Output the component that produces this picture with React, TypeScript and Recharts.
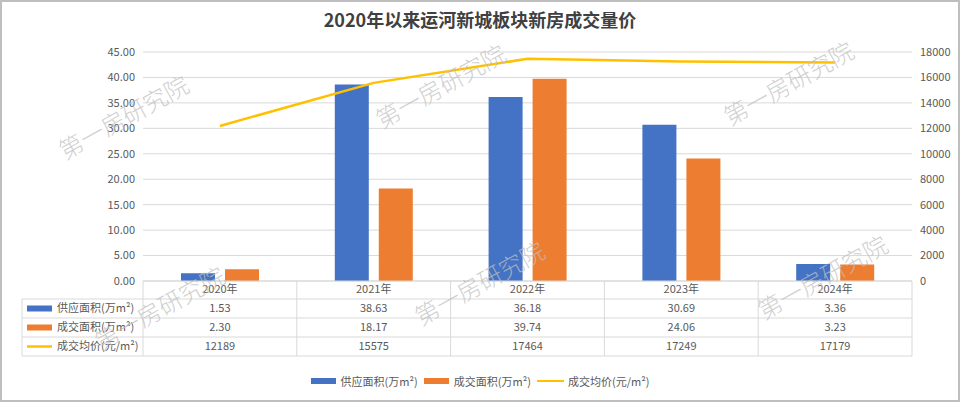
import React from 'react';
import {
  ComposedChart,
  Bar,
  Line,
  XAxis,
  YAxis,
  CartesianGrid,
  Legend,
} from 'recharts';

// chart data
const years = ['2020年', '2021年', '2022年', '2023年', '2024年'];
const supplyArea = [1.53, 38.63, 36.18, 30.69, 3.36];
const dealArea = [2.3, 18.17, 39.74, 24.06, 3.23];
const avgPrice = [12189, 15575, 17464, 17249, 17179];

const leftTicks = [0, 5, 10, 15, 20, 25, 30, 35, 40, 45];
const rightTicks = [0, 2000, 4000, 6000, 8000, 10000, 12000, 14000, 16000, 18000];

const seriesNames = ['供应面积(万m²)', '成交面积(万m²)', '成交均价(元/m²)'];
const seriesColors = ['#4472C4', '#ED7D31', '#FFC000'];

const data = years.map((year, i) => ({
  year,
  supply: supplyArea[i],
  deal: dealArea[i],
  price: avgPrice[i],
}));

// layout
const W = 960;
const H = 402;
const PLOT_LEFT = 143;
const PLOT_RIGHT = 912;
const PLOT_TOP = 52;
const PLOT_BOTTOM = 281;
const LEFT_AXIS_W = 60;
const RIGHT_AXIS_W = 48;
const X_AXIS_H = 18;
const ROW_H = 19;
const TABLE_LEFT = 22;

const FONT = '"Noto Sans CJK SC", "Noto Sans", sans-serif';
const TEXT = '#595959';
const LINE = '#D9D9D9';

const colW = (PLOT_RIGHT - PLOT_LEFT) / years.length;

const tableRows = [
  supplyArea.map((v) => v.toFixed(2)),
  dealArea.map((v) => v.toFixed(2)),
  avgPrice.map((v) => String(v)),
];

// watermark centres
const marks = [
  [124, 118],
  [441, 87],
  [789, 84],
  [160, 309],
  [480, 284],
  [823, 278],
];

function DataTable() {
  const headTop = PLOT_BOTTOM;
  const bodyTop = PLOT_BOTTOM + X_AXIS_H;
  const bodyBottom = bodyTop + ROW_H * 3;
  return (
    <svg width={W} height={H} style={{ position: 'absolute', left: 0, top: 0, pointerEvents: 'none' }}>
      {/* header verticals */}
      {years.map((_, i) => (
        <line key={`hv${i}`} x1={PLOT_LEFT + i * colW} x2={PLOT_LEFT + i * colW} y1={headTop} y2={bodyTop} stroke={LINE} />
      ))}
      <line x1={PLOT_RIGHT} x2={PLOT_RIGHT} y1={headTop} y2={bodyBottom} stroke={LINE} />
      {/* body */}
      {[0, 1, 2, 3].map((r) => (
        <line key={`h${r}`} x1={TABLE_LEFT} x2={PLOT_RIGHT} y1={bodyTop + r * ROW_H} y2={bodyTop + r * ROW_H} stroke={LINE} />
      ))}
      <line x1={TABLE_LEFT} x2={TABLE_LEFT} y1={bodyTop} y2={bodyBottom} stroke={LINE} />
      {years.map((_, i) => (
        <line key={`bv${i}`} x1={PLOT_LEFT + i * colW} x2={PLOT_LEFT + i * colW} y1={bodyTop} y2={bodyBottom} stroke={LINE} />
      ))}
      {tableRows.map((row, r) => {
        const cy = bodyTop + r * ROW_H + ROW_H / 2;
        return (
          <g key={`r${r}`}>
            {r < 2 ? (
              <rect x={27} y={cy - 3} width={25} height={6} fill={seriesColors[r]} />
            ) : (
              <line x1={27} x2={52} y1={cy} y2={cy} stroke={seriesColors[r]} strokeWidth={2.5} />
            )}
            <text x={57} y={cy} dy="0.35em" fontSize={11} fill={TEXT} fontFamily={FONT}>
              {seriesNames[r]}
            </text>
            {row.map((v, i) => (
              <text
                key={i}
                x={PLOT_LEFT + (i + 0.5) * colW}
                y={cy}
                dy="0.35em"
                textAnchor="middle"
                fontSize={11}
                fill={TEXT}
                fontFamily={FONT}
              >
                {v}
              </text>
            ))}
          </g>
        );
      })}
    </svg>
  );
}

function Watermarks() {
  return (
    <svg width={W} height={H} style={{ position: 'absolute', left: 0, top: 0, pointerEvents: 'none' }}>
      {marks.map(([x, y], i) => (
        <text
          key={i}
          x={x}
          y={y}
          dy="0.35em"
          textAnchor="middle"
          fontSize={24}
          fontFamily={FONT}
          fontWeight={300}
          fill="#BFBFBF"
          fillOpacity={0.75}
          transform={`rotate(-29 ${x} ${y})`}
        >
          第一房研究院
        </text>
      ))}
    </svg>
  );
}

function renderLegend() {
  return (
    <div
      style={{
        display: 'flex',
        justifyContent: 'center',
        alignItems: 'center',
        fontFamily: FONT,
        fontSize: 11,
        color: TEXT,
      }}
    >
      {seriesNames.map((name, i) => (
        <div key={name} style={{ display: 'flex', alignItems: 'center', marginRight: i < 2 ? 6 : 0 }}>
          {i < 2 ? (
            <span style={{ display: 'inline-block', width: 25, height: 6, background: seriesColors[i], marginRight: 5 }} />
          ) : (
            <span style={{ display: 'inline-block', width: 27, height: 2.5, background: seriesColors[i], marginRight: 4 }} />
          )}
          <span>{name}</span>
        </div>
      ))}
    </div>
  );
}

export default function App() {
  return (
    <div style={{ position: 'relative', width: W, height: H, background: '#fff', overflow: 'hidden' }}>
      <style>{'body{margin:0;}'}</style>
      <div
        style={{
          position: 'absolute',
          top: 7,
          left: 0,
          width: W,
          textAlign: 'center',
          fontFamily: FONT,
          fontWeight: 700,
          fontSize: 18,
          color: '#404040',
          lineHeight: '24px',
        }}
      >
        2020年以来运河新城板块新房成交量价
      </div>
      <ComposedChart
        width={W}
        height={H}
        data={data}
        barGap={10}
        margin={{
          top: PLOT_TOP,
          left: PLOT_LEFT - LEFT_AXIS_W,
          right: W - PLOT_RIGHT - RIGHT_AXIS_W,
          bottom: H - PLOT_BOTTOM - X_AXIS_H,
        }}
      >
        <CartesianGrid yAxisId="left" vertical={false} stroke={LINE} />
        <XAxis
          dataKey="year"
          height={X_AXIS_H}
          tickLine={false}
          tickSize={2}
          tickMargin={2}
          axisLine={{ stroke: LINE }}
          tick={{ fontSize: 11, fill: TEXT, fontFamily: FONT }}
        />
        <YAxis
          yAxisId="left"
          width={LEFT_AXIS_W}
          domain={[0, 45]}
          ticks={leftTicks}
          tickFormatter={(v: number) => v.toFixed(2)}
          axisLine={false}
          tickLine={false}
          tick={{ fontSize: 11, fill: TEXT, fontFamily: FONT }}
        />
        <YAxis
          yAxisId="right"
          orientation="right"
          width={RIGHT_AXIS_W}
          domain={[0, 18000]}
          ticks={rightTicks}
          axisLine={false}
          tickLine={false}
          tick={{ fontSize: 11, fill: TEXT, fontFamily: FONT, textAnchor: 'start' }}
        />
        <Bar yAxisId="left" dataKey="supply" name={seriesNames[0]} fill={seriesColors[0]} barSize={34} isAnimationActive={false} />
        <Bar yAxisId="left" dataKey="deal" name={seriesNames[1]} fill={seriesColors[1]} barSize={34} isAnimationActive={false} />
        <Line
          yAxisId="right"
          type="linear"
          dataKey="price"
          name={seriesNames[2]}
          stroke={seriesColors[2]}
          strokeWidth={2.5}
          dot={false}
          isAnimationActive={false}
        />
        <Legend
          layout="horizontal"
          verticalAlign="middle"
          align="center"
          content={renderLegend}
          wrapperStyle={{ top: 373, left: 0, width: W }}
        />
      </ComposedChart>
      <DataTable />
      <Watermarks />
      <div
        style={{
          position: 'absolute',
          inset: 0,
          border: '2px solid #BFBFBF',
          boxSizing: 'border-box',
          pointerEvents: 'none',
        }}
      />
    </div>
  );
}
